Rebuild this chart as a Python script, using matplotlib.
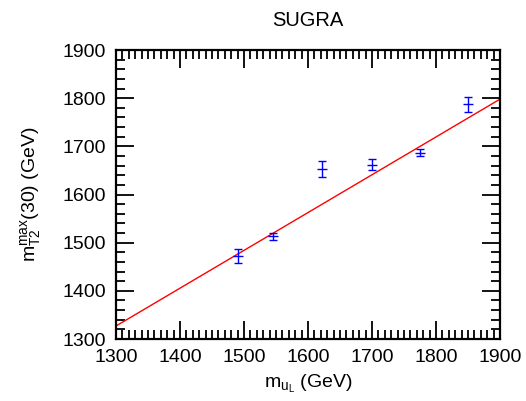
import matplotlib
matplotlib.use("Agg")
import matplotlib.pyplot as plt
import numpy as np
from matplotlib.ticker import MultipleLocator

plt.rcParams['font.family'] = ['Liberation Sans', 'DejaVu Sans']
plt.rcParams['mathtext.fontset'] = 'custom'
plt.rcParams['mathtext.rm'] = 'Liberation Sans'
plt.rcParams['mathtext.it'] = 'Liberation Sans'

# Data
m_uL = [1490, 1545, 1622, 1700, 1775, 1850]
mt2max = [1472, 1513, 1653, 1662, 1687, 1787]
mt2err = [15, 8, 16, 11, 7, 15]
fit_x = [1300, 1900]
fit_y = [1327, 1798]

fig = plt.figure(figsize=(5.26, 4.01), dpi=100)
ax = fig.add_axes([0.2205, 0.1546, 0.7301, 0.7207])

ax.plot(fit_x, fit_y, color='red', lw=1.0)
ax.errorbar(m_uL, mt2max, yerr=mt2err, fmt='_', color='blue', ecolor='blue',
            markersize=7, elinewidth=1.0, capsize=3, capthick=1.0, mew=1.0)

ax.set_xlim(1300, 1900)
ax.set_ylim(1300, 1900)
ax.xaxis.set_major_locator(MultipleLocator(100))
ax.xaxis.set_minor_locator(MultipleLocator(10))
ax.yaxis.set_major_locator(MultipleLocator(100))
ax.yaxis.set_minor_locator(MultipleLocator(20))
ax.tick_params(which='both', direction='in', top=True, right=True, width=1.3, labelsize=14, colors='black')
ax.tick_params(which='major', length=13, pad=7)
ax.tick_params(which='minor', length=6.5)
for s in ax.spines.values():
    s.set_linewidth(1.6)

ax.set_title('SUGRA', fontsize=14.5, pad=17)
ax.set_xlabel(r'$\mathrm{m}_{\mathrm{u}_\mathrm{L}}$ (GeV)', fontsize=14, labelpad=5)
ax.set_ylabel(r'$\mathrm{m}_{\mathrm{T2}}^{\mathrm{max}}$(30) (GeV)', fontsize=14, labelpad=14)

fig.savefig('out.png', dpi=100)
